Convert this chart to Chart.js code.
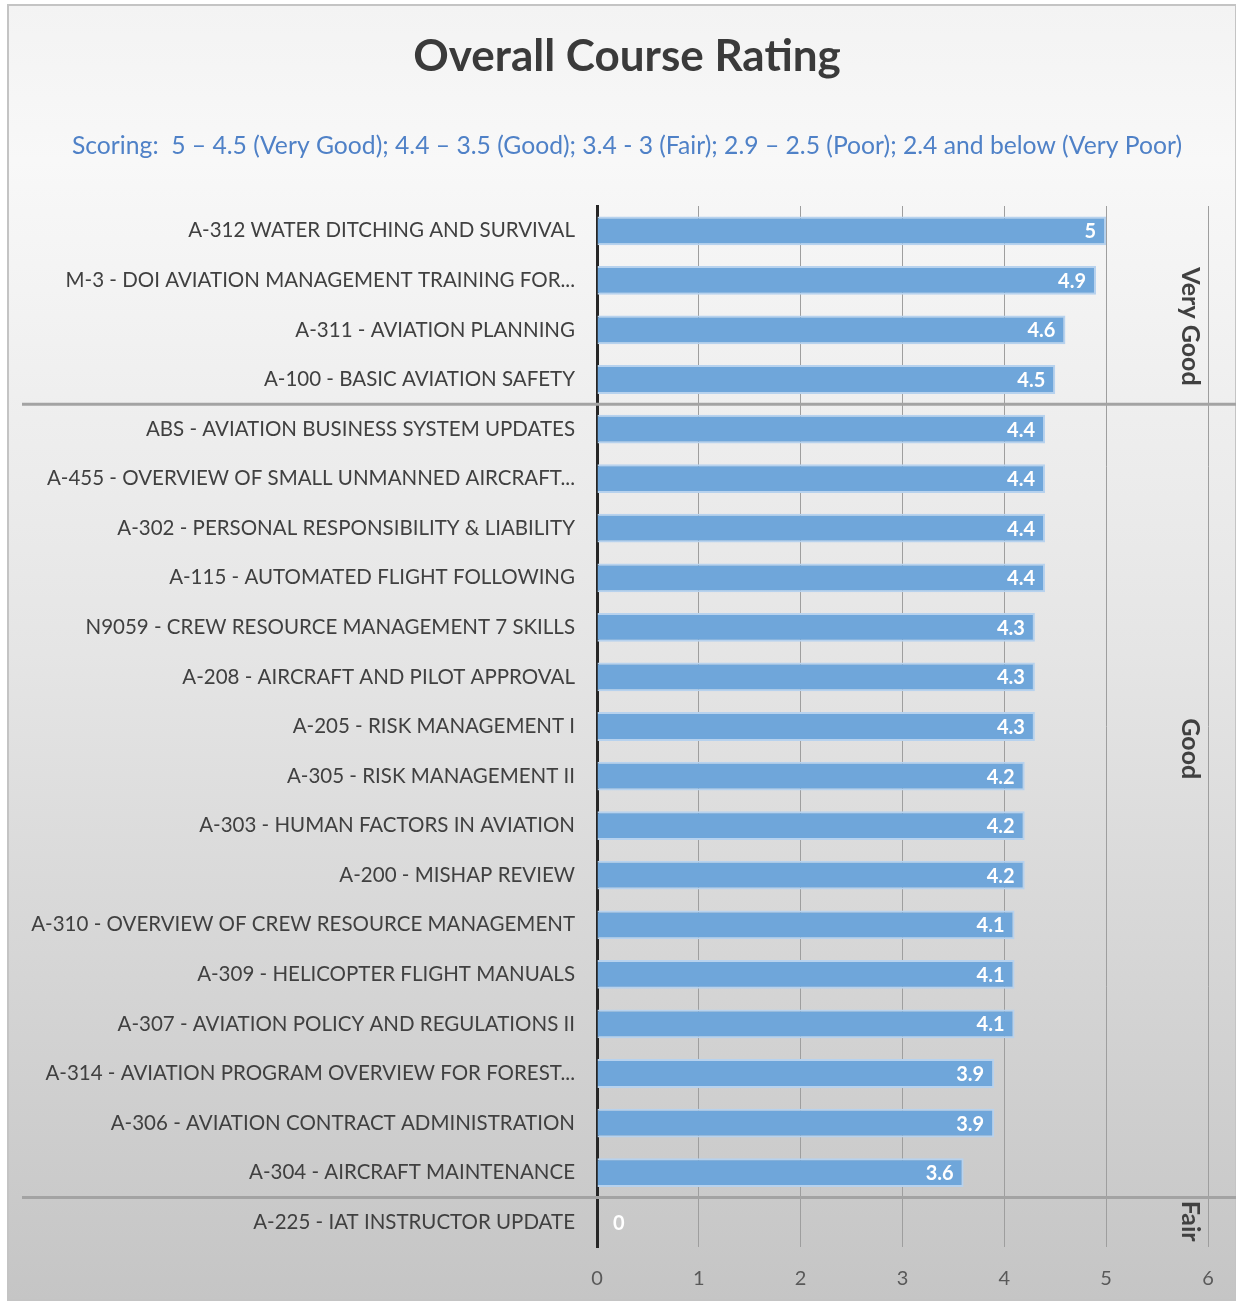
<!DOCTYPE html>
<html>
<head>
<meta charset="utf-8">
<title>Overall Course Rating</title>
<script src="https://cdn.jsdelivr.net/npm/chart.js"></script>
<style>
  html, body { margin: 0; padding: 0; background: #ffffff; }
  #wrap { width: 1236px; height: 1302px; position: relative; }
</style>
</head>
<body>
<div id="wrap"><canvas id="chart"></canvas></div>
<script>
// Data
const courses = [
  'A-312 WATER DITCHING AND SURVIVAL',
  'M-3 - DOI AVIATION MANAGEMENT TRAINING FOR...',
  'A-311 - AVIATION PLANNING',
  'A-100 - BASIC AVIATION SAFETY',
  'ABS - AVIATION BUSINESS SYSTEM UPDATES',
  'A-455 - OVERVIEW OF SMALL UNMANNED AIRCRAFT...',
  'A-302 - PERSONAL RESPONSIBILITY & LIABILITY',
  'A-115 - AUTOMATED FLIGHT FOLLOWING',
  'N9059 - CREW RESOURCE MANAGEMENT 7 SKILLS',
  'A-208 - AIRCRAFT AND PILOT APPROVAL',
  'A-205 - RISK MANAGEMENT I',
  'A-305 - RISK MANAGEMENT II',
  'A-303 - HUMAN FACTORS IN AVIATION',
  'A-200 - MISHAP REVIEW',
  'A-310 - OVERVIEW OF CREW RESOURCE MANAGEMENT',
  'A-309 - HELICOPTER FLIGHT MANUALS',
  'A-307 - AVIATION POLICY AND REGULATIONS II',
  'A-314 - AVIATION PROGRAM OVERVIEW FOR FOREST...',
  'A-306 - AVIATION CONTRACT ADMINISTRATION',
  'A-304 - AIRCRAFT MAINTENANCE',
  'A-225 - IAT INSTRUCTOR UPDATE'
];
const ratings = [5, 4.9, 4.6, 4.5, 4.4, 4.4, 4.4, 4.4, 4.3, 4.3, 4.3, 4.2, 4.2, 4.2, 4.1, 4.1, 4.1, 3.9, 3.9, 3.6, 0];
const xTicks = [0, 1, 2, 3, 4, 5, 6];
// rating bands: name, last category index, where the name sits on the category axis
const bandLabels = ['Very Good', 'Good', 'Fair'];
const bandLast = [3, 19, 20];
const bandLabelAt = [1.93, 10.45, 19.98];

const titleText = 'Overall Course Rating';
const scoringText = 'Scoring:  5 \u2013 4.5 (Very Good); 4.4 \u2013 3.5 (Good); 3.4 - 3 (Fair); 2.9 \u2013 2.5 (Poor); 2.4 and below (Very Poor)';

const FONT = 'Lato, "Open Sans", sans-serif';

// background panel with soft gradient and frame
const backdrop = {
  id: 'backdrop',
  beforeDraw(chart) {
    const ctx = chart.ctx;
    ctx.save();
    ctx.fillStyle = '#ffffff';
    ctx.fillRect(0, 0, chart.width, chart.height);
    const g = ctx.createLinearGradient(0, 5, 0, 1300);
    g.addColorStop(0, '#f3f3f3');
    g.addColorStop(0.12, '#f8f8f8');
    g.addColorStop(0.5, '#e5e5e5');
    g.addColorStop(1, '#c5c5c5');
    ctx.fillStyle = g;
    ctx.fillRect(8, 5, chart.width - 8, 1295);
    ctx.strokeStyle = '#c4c4c4';
    ctx.lineWidth = 2;
    ctx.strokeRect(8, 5, chart.width - 8, 1295);

    // title and scoring note, centred on the panel
    const cx = (8 + chart.width + 10) / 2;
    ctx.textAlign = 'center';
    ctx.textBaseline = 'middle';
    ctx.fillStyle = '#3a3a3a';
    ctx.font = 'bold 44px ' + FONT;
    ctx.fillText(titleText, cx, 57);
    ctx.fillStyle = '#4f81c7';
    ctx.font = '24.7px ' + FONT;
    ctx.fillText(scoringText, cx, 146);
    ctx.restore();
  }
};

// band separators and rotated band names
const bands = {
  id: 'bands',
  afterDatasetsDraw(chart) {
    const ctx = chart.ctx;
    const y = chart.scales.y;
    const area = chart.chartArea;
    ctx.save();
    ctx.strokeStyle = '#a3a3a3';
    ctx.lineWidth = 3;
    for (let i = 0; i < bandLast.length - 1; i++) {
      const py = y.getPixelForValue(bandLast[i] + 0.5);
      ctx.beginPath();
      ctx.moveTo(22, py);
      ctx.lineTo(chart.width, py);
      ctx.stroke();
    }
    ctx.fillStyle = '#404040';
    ctx.font = 'bold 25px ' + FONT;
    ctx.textAlign = 'center';
    ctx.textBaseline = 'middle';
    bandLabels.forEach((lbl, i) => {
      const py = y.getPixelForValue(bandLabelAt[i]);
      ctx.save();
      ctx.translate(area.right - 18, py);
      ctx.rotate(Math.PI / 2);
      ctx.fillText(lbl, 0, 0);
      ctx.restore();
    });
    ctx.restore();
  }
};

// white value labels at the bar ends
const valueLabels = {
  id: 'valueLabels',
  afterDatasetsDraw(chart) {
    const ctx = chart.ctx;
    const meta = chart.getDatasetMeta(0);
    ctx.save();
    ctx.fillStyle = '#ffffff';
    ctx.font = 'bold 20px ' + FONT;
    ctx.textBaseline = 'middle';
    meta.data.forEach((bar, i) => {
      const v = ratings[i];
      if (v === 0) {
        ctx.textAlign = 'left';
        ctx.fillText('0', bar.base + 16, bar.y + 1);
      } else {
        ctx.textAlign = 'right';
        ctx.fillText(String(v), bar.x - 10, bar.y + 1);
      }
    });
    ctx.restore();
  }
};

new Chart(document.getElementById('chart'), {
  type: 'bar',
  data: {
    labels: courses,
    datasets: [{
      data: ratings,
      backgroundColor: '#6fa6da',
      borderColor: '#b7d2ee',
      borderWidth: 2,
      borderSkipped: 'left',
      barPercentage: 0.58,
      categoryPercentage: 1
    }]
  },
  options: {
    indexAxis: 'y',
    responsive: true,
    maintainAspectRatio: false,
    animation: false,
    layout: { padding: { top: 206, right: 28, bottom: 0, left: 0 } },
    plugins: {
      legend: { display: false },
      tooltip: { enabled: false },
      title: { display: false }
    },
    scales: {
      x: {
        min: 0,
        max: 6,
        afterBuildTicks(scale) { scale.ticks = xTicks.map(v => ({ value: v })); },
        afterFit(scale) { scale.height = 55; },
        grid: { color: '#9e9e9e', lineWidth: 1, drawTicks: false },
        border: { display: false },
        ticks: { color: '#595959', font: { family: FONT, size: 20 }, padding: 20 }
      },
      y: {
        afterFit(scale) { scale.width = 597; },
        grid: { display: false },
        border: { display: true, color: '#262626', width: 3 },
        ticks: { color: '#404040', font: { family: FONT, size: 20.5 }, padding: 14, autoSkip: false }
      }
    }
  },
  plugins: [backdrop, bands, valueLabels]
});
</script>
</body>
</html>
